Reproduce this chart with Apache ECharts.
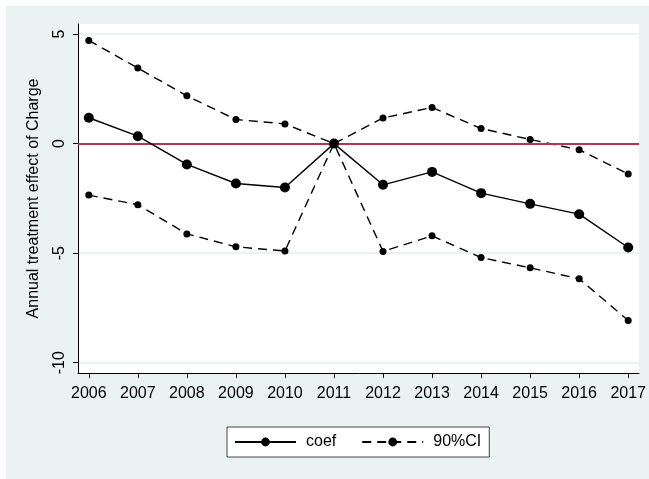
<!DOCTYPE html>
<html>
<head>
<meta charset="utf-8">
<script src="https://cdn.jsdelivr.net/npm/echarts@6/dist/echarts.min.js"></script>
<style>
  html, body { margin: 0; padding: 0; background: #fff; }
  #bg { position: absolute; left: 6px; top: 6px; width: 643px; height: 473px; background: #eaf2f3; }
  #chart { position: absolute; left: 0; top: 0; width: 649px; height: 479px; }
</style>
</head>
<body>
<div id="bg"></div>
<div id="chart"></div>
<script>
var years = [2006, 2007, 2008, 2009, 2010, 2011, 2012, 2013, 2014, 2015, 2016, 2017];
var coef = [1.18, 0.34, -0.95, -1.82, -2.0, 0, -1.88, -1.29, -2.26, -2.75, -3.22, -4.74];
var upper = [4.71, 3.45, 2.18, 1.10, 0.90, 0, 1.17, 1.65, 0.69, 0.19, -0.28, -1.39];
var lower = [-2.35, -2.79, -4.12, -4.71, -4.90, 0, -4.92, -4.21, -5.20, -5.67, -6.17, -8.07];
var yTicks = [-10, -5, 0, 5];

function pairs(vals) {
    return years.map(function (y, i) { return [y, vals[i]]; });
}

var font = 'Liberation Sans, Arial, sans-serif';
var dash = [9, 6];

var option = {
    animation: false,
    textStyle: { fontFamily: font },
    grid: {
        left: 78, right: 9, top: 24, bottom: 106,
        show: true, backgroundColor: '#fff', borderWidth: 0
    },
    legend: {
        data: ['coef', '90%CI'],
        left: 227, top: 427,
        padding: [7, 8, 7, 7],
        itemWidth: 61, itemHeight: 11, itemGap: 25,
        backgroundColor: '#fff',
        borderColor: '#444', borderWidth: 1, borderRadius: 0,
        selectedMode: false,
        textStyle: { fontSize: 16, color: '#000', fontFamily: font, padding: [0, 0, 0, 5] }
    },
    xAxis: {
        type: 'value',
        min: 2005.78, max: 2017.22,
        axisLine: { onZero: false, lineStyle: { color: '#000', width: 1 } },
        axisTick: { customValues: years, length: 5, lineStyle: { color: '#000' } },
        axisLabel: {
            customValues: years, fontSize: 16, color: '#000', margin: 13, fontFamily: font,
            formatter: function (v) { return String(v); }
        },
        splitLine: { show: false }
    },
    yAxis: {
        type: 'value',
        min: -10.47, max: 5.46,
        name: 'Annual treatment effect of Charge',
        nameLocation: 'middle', nameRotate: 90, nameGap: 36,
        nameTextStyle: { fontSize: 16, color: '#000', fontFamily: font },
        axisLine: { show: true, onZero: false, lineStyle: { color: '#000', width: 1 } },
        axisTick: { show: true, customValues: yTicks, length: 5, lineStyle: { color: '#000' } },
        axisLabel: { customValues: yTicks, rotate: 90, fontSize: 16, color: '#000', margin: 10, fontFamily: font },
        splitLine: { show: true, lineStyle: { color: '#eaf2f3', width: 2 } }
    },
    series: [
        {
            name: 'coef', type: 'line',
            data: pairs(coef),
            symbol: 'circle', symbolSize: 10,
            itemStyle: { color: '#000' },
            lineStyle: { color: '#000', width: 1.4 },
            z: 5,
            markLine: {
                silent: true, symbol: 'none',
                label: { show: false },
                lineStyle: { color: '#b8334f', width: 2, type: 'solid' },
                data: [{ yAxis: 0 }]
            }
        },
        {
            name: '90%CI', type: 'line',
            data: pairs(upper),
            symbol: 'circle', symbolSize: 7,
            itemStyle: { color: '#000' },
            lineStyle: { color: '#000', width: 1.4, type: dash }
        },
        {
            name: '90%CI', type: 'line',
            data: pairs(lower),
            symbol: 'circle', symbolSize: 7,
            itemStyle: { color: '#000' },
            lineStyle: { color: '#000', width: 1.4, type: dash }
        }
    ]
};

var myChart = echarts.init(document.getElementById('chart'));
myChart.setOption(option, true);
</script>
</body>
</html>
